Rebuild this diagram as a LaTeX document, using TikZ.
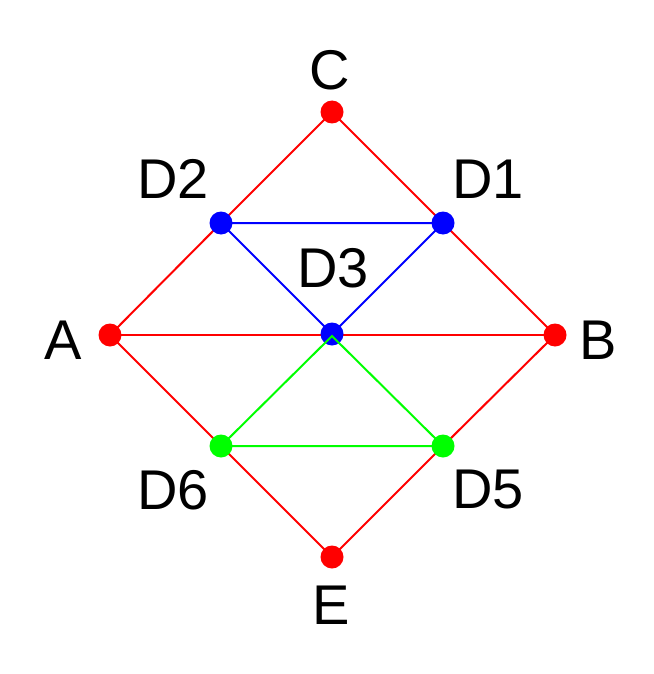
\documentclass[tikz,border=0pt]{standalone}
\usepackage{fontspec}
\setmainfont{Liberation Sans}
\begin{document}
\begin{tikzpicture}[x=1pt,y=-1pt,
  dot/.style={circle,inner sep=0pt,minimum size=23pt},
  lbl/.style={inner sep=0pt,font=\fontsize{56}{60}\selectfont},
  edge/.style={line width=2pt}]
\useasboundingbox (0,0) rectangle (653,674);
\fill[white] (0,0) rectangle (653,674);
\coordinate (C) at (332,112);
\coordinate (D2) at (221,223);
\coordinate (D1) at (443,223);
\coordinate (A) at (110,335);
\coordinate (D3) at (332,334);
\coordinate (B) at (555,335);
\coordinate (D6) at (221,446);
\coordinate (D5) at (443,446);
\coordinate (E) at (332,557);
% red edges
\draw[edge,red] (C) -- (D2) -- (A) -- (D6) -- (E) -- (D5) -- (B) -- (D1) -- cycle;
\draw[edge,red] (A) -- (B);
% blue edges
\draw[edge,blue] (D2) -- (D1) -- (D3) -- cycle;
% dots
\foreach \p in {C,A,B,E} \node[dot,fill=red] (n\p) at (\p) {};
\foreach \p in {D1,D2,D3} \node[dot,fill=blue] (n\p) at (\p) {};
\foreach \p in {D5,D6} \node[dot,fill=green] (n\p) at (\p) {};
% green edges on top
\draw[edge,green] (D6) -- (D5) -- (332,336) -- cycle;
% labels
\node[lbl] (lC) at (330,70) {C};
\node[lbl] (lD2) at (173,179) {D2};
\node[lbl] (lD1) at (488,179) {D1};
\node[lbl] (lD3) at (333,268) {D3};
\node[lbl] (lA) at (63,340) {A};
\node[lbl] (lB) at (598,340) {B};
\node[lbl] (lD6) at (173,490) {D6};
\node[lbl] (lD5) at (488,490) {D5};
\node[lbl] (lE) at (331,605) {E};
\end{tikzpicture}
\end{document}
